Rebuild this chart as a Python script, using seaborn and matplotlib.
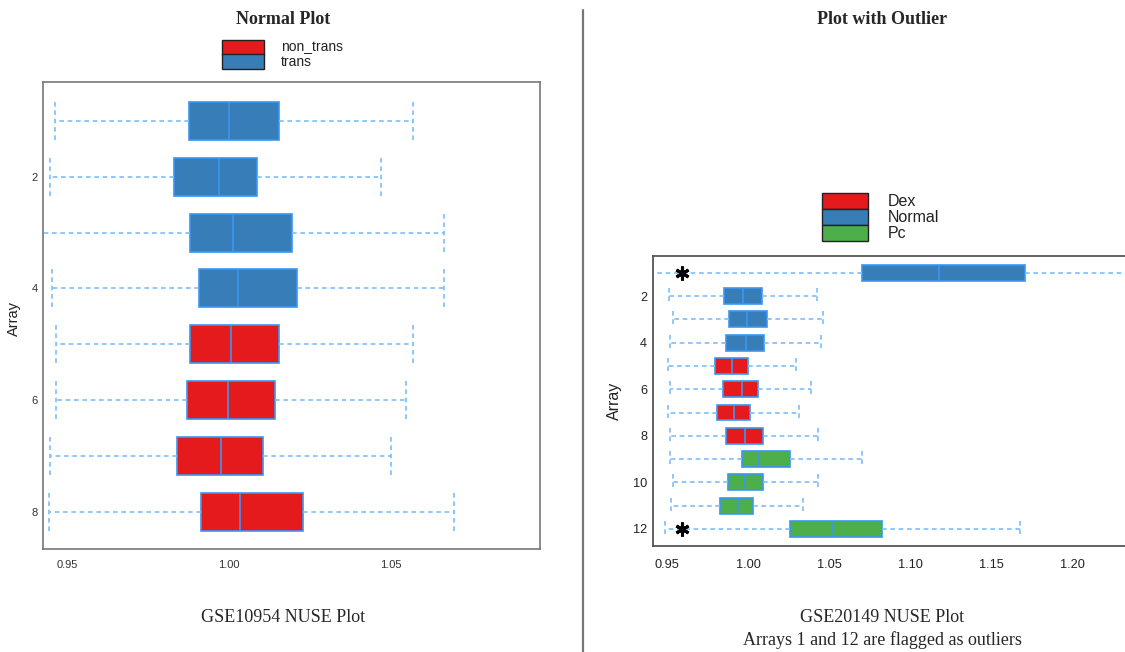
import numpy as np
import pandas as pd
import matplotlib
matplotlib.use("Agg")
import matplotlib.pyplot as plt
import seaborn as sns
from matplotlib.patches import Rectangle
from matplotlib.lines import Line2D

# ---------------- data (five-number summaries) ----------------
# Left panel: GSE10954
left_arrays = ["1", "2", "3", "4", "5", "6", "7", "8"]
left_groups = ["trans", "trans", "trans", "trans",
               "non_trans", "non_trans", "non_trans", "non_trans"]
left_low = [0.9464, 0.9449, 0.9400, 0.9455, 0.9466, 0.9466, 0.9447, 0.9445]
left_q1 = [0.9876, 0.9831, 0.9879, 0.9907, 0.9879, 0.9870, 0.9841, 0.9914]
left_med = [1.0000, 0.9968, 1.0012, 1.0028, 1.0006, 0.9996, 0.9976, 1.0033]
left_q3 = [1.0153, 1.0087, 1.0196, 1.0211, 1.0154, 1.0141, 1.0105, 1.0227]
left_high = [1.0569, 1.0469, 1.0665, 1.0665, 1.0567, 1.0547, 1.0500, 1.0694]
left_hue_order = ["non_trans", "trans"]
left_ticks = [0.95, 1.00, 1.05]

# Right panel: GSE20149
right_arrays = ["1", "2", "3", "4", "5", "6", "7", "8", "9", "10", "11", "12"]
right_groups = ["Normal", "Normal", "Normal", "Normal",
                "Dex", "Dex", "Dex", "Dex",
                "Pc", "Pc", "Pc", "Pc"]
right_low = [0.9300, 0.9508, 0.9533, 0.9516, 0.9502, 0.9518,
             0.9502, 0.9518, 0.9516, 0.9533, 0.9523, 0.9482]
right_q1 = [1.0702, 0.9849, 0.9878, 0.9862, 0.9796, 0.9845,
            0.9804, 0.9859, 0.9960, 0.9872, 0.9825, 1.0256]
right_med = [1.1172, 0.9968, 0.9989, 0.9983, 0.9896, 0.9962,
             0.9909, 0.9981, 1.0067, 0.9981, 0.9937, 1.0513]
right_q3 = [1.1702, 1.0081, 1.0112, 1.0098, 0.9995, 1.0059,
            1.0007, 1.0087, 1.0256, 1.0092, 1.0028, 1.0823]
right_high = [1.2600, 1.0420, 1.0461, 1.0445, 1.0293, 1.0383,
              1.0309, 1.0430, 1.0697, 1.0428, 1.0334, 1.1673]
right_hue_order = ["Dex", "Normal", "Pc"]
right_ticks = [0.95, 1.00, 1.05, 1.10, 1.15, 1.20]
outlier_arrays = ["1", "12"]
outlier_star_x = 0.959

palette = {"non_trans": "#E41A1C", "trans": "#377EB8",
           "Dex": "#E41A1C", "Normal": "#377EB8", "Pc": "#4DAF4A"}

# ---------------- style ----------------
sns.set_style("white")
plt.rcParams["font.family"] = ["Liberation Sans", "DejaVu Sans"]

W, H = 1125, 652
fig = plt.figure(figsize=(W / 100, H / 100), dpi=100)

BOX_EDGE = "#3A96F2"
WHISK = "#7DBDFA"
DASH = (0, (2.8, 2.2))


def fx(px):
    return px / W


def fy(py):
    return 1 - py / H


def make_df(arrays, groups, *stats):
    rows = []
    for i, a in enumerate(arrays):
        for s in stats:
            rows.append({"Array": a, "group": groups[i], "NUSE": s[i]})
    return pd.DataFrame(rows)


def draw_panel(ax, arrays, groups, stats, hue_order):
    df = make_df(arrays, groups, *stats)
    sns.boxplot(data=df, x="NUSE", y="Array", hue="group", order=arrays,
                hue_order=hue_order, palette=palette, dodge=False,
                whis=(0, 100), width=0.68, saturation=1, linewidth=1.2,
                linecolor=BOX_EDGE, fliersize=0, legend=False, ax=ax,
                whiskerprops=dict(color=WHISK, linestyle=DASH, linewidth=1.2),
                capprops=dict(color=WHISK, linestyle=DASH, linewidth=1.2),
                medianprops=dict(color=BOX_EDGE, linewidth=1.2),
                capwidths=0.68)
    n = len(arrays)
    ax.set_yticks(range(1, n, 2))
    ax.set_yticklabels(arrays[1::2])
    ax.set_xlabel("")
    ax.set_ylabel("")


# ---------------- left panel ----------------
axL = fig.add_axes([fx(43), fy(549), fx(540) - fx(43), fy(82) - fy(549)])
draw_panel(axL, left_arrays, left_groups,
           [left_low, left_q1, left_med, left_q3, left_high], left_hue_order)
axL.set_xlim(0.9426, 1.0960)
axL.set_ylim(len(left_arrays) - 1 + 0.67, -0.70)
axL.set_xticks(left_ticks)
axL.set_xticklabels([f"{t:.2f}" for t in left_ticks])
axL.tick_params(axis="x", length=0, pad=8, labelsize=8, labelcolor="#333333")
axL.tick_params(axis="y", length=0, pad=3.6, labelsize=8, labelcolor="#333333")
for s in axL.spines.values():
    s.set_visible(True)
    s.set_color("#777777")
    s.set_linewidth(1.2)

# ---------------- right panel ----------------
ppu = 1622.0
xr0, xr1 = 0.9411, 1.235
axR = fig.add_axes([fx(653), fy(546), (xr1 - xr0) * ppu / W, fy(256) - fy(546)])
draw_panel(axR, right_arrays, right_groups,
           [right_low, right_q1, right_med, right_q3, right_high], right_hue_order)
axR.set_xlim(xr0, xr1)
axR.set_ylim(len(right_arrays) - 1 + 0.73, -0.72)
axR.set_xticks(right_ticks)
axR.set_xticklabels([f"{t:.2f}" for t in right_ticks])
axR.tick_params(axis="x", length=0, pad=9.4, labelsize=9.2, labelcolor="#222222")
axR.tick_params(axis="y", length=0, pad=4.3, labelsize=9.2, labelcolor="#222222")
for name, s in axR.spines.items():
    s.set_visible(name != "right")
    s.set_color("#555555")
    s.set_linewidth(1.3)
for a in outlier_arrays:
    axR.plot([outlier_star_x], [right_arrays.index(a)], marker=(6, 2, 0),
             markersize=10, markeredgewidth=2.2, color="black", clip_on=False)

# ---------------- axis titles ----------------
fig.text(fx(14), fy(318), "Array", rotation=90, ha="center", va="center",
         fontsize=10.5, color="#222222")
fig.text(fx(614), fy(401), "Array", rotation=90, ha="center", va="center",
         fontsize=11.5, color="#222222")

serif = ["Liberation Serif", "DejaVu Serif"]
fig.text(fx(283), fy(20), "Normal Plot", ha="center", va="center",
         fontsize=13, fontweight="bold", family=serif)
fig.text(fx(882), fy(20), "Plot with Outlier", ha="center", va="center",
         fontsize=13, fontweight="bold", family=serif)
fig.text(fx(283), fy(618), "GSE10954 NUSE Plot", ha="center", va="center",
         fontsize=13, family=serif)
fig.text(fx(882), fy(618), "GSE20149 NUSE Plot", ha="center", va="center",
         fontsize=13, family=serif)
fig.text(fx(882), fy(640), "Arrays 1 and 12 are flagged as outliers",
         ha="center", va="center", fontsize=13, family=serif)

# ---------------- legends ----------------
def draw_legend(labels, x0, x1, y0, h, tx, fs):
    for i, lab in enumerate(labels):
        top = y0 + i * h
        fig.add_artist(Rectangle((fx(x0), fy(top + h)), fx(x1) - fx(x0), h / H,
                                 transform=fig.transFigure,
                                 facecolor=palette[lab], edgecolor="#222222",
                                 linewidth=1.0))
        fig.text(fx(tx), fy(top + h / 2), lab, ha="left", va="center",
                 fontsize=fs, color="#222222")


draw_legend(left_hue_order, 222, 264, 40, 14.5, 281, 10)
draw_legend(right_hue_order, 822, 868, 193, 16, 888, 11.5)

# divider
fig.add_artist(Line2D([fx(583), fx(583)], [0, fy(10)], transform=fig.transFigure,
                      color="#777777", linewidth=1.6))

fig.savefig("out.png", dpi=100)
